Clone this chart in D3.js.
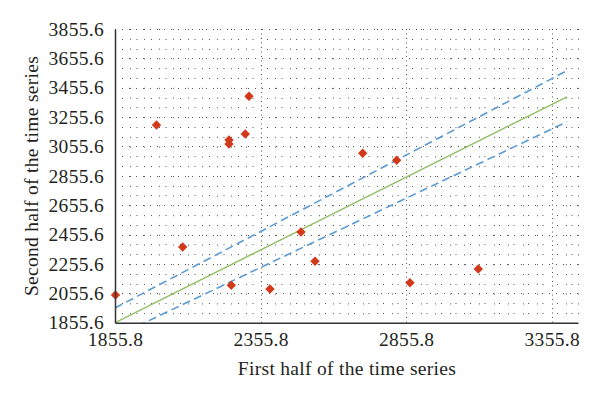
<!DOCTYPE html>
<html>
<head>
<meta charset="utf-8">
<script src="https://cdn.jsdelivr.net/npm/d3@7"></script>
<style>
  body { margin: 0; background: #fff; }
  text { font-family: "Liberation Serif", "DejaVu Serif", serif; fill: #231f20; }
</style>
</head>
<body>
<div id="wrapper"></div>
<script>
// data
const firstHalf  = [1857.5, 1998.3, 2088.3, 2247.3, 2247.3, 2303.2, 2316.0, 2255.2, 2388.0, 2494.5, 2542.6, 2706.4, 2823.1, 2868.8, 3103.4]
const secondHalf = [2044.2, 3202.0, 2371.0, 3099.8, 3072.6, 3140.6, 3397.4, 2110.3, 2085.1, 2473.3, 2273.7, 3009.2, 2961.6, 2128.0, 2221.3]

const fitLine   = [[1855.8, 1855.6], [3408, 3394]]
const upperBand = [[1855.8, 1956], [3408, 3572]]
const lowerBand = [[1855.8, 1760], [3408, 3224]]

const xTicks = [1855.8, 2355.8, 2855.8, 3355.8]
const yTicks = [1855.6, 2055.6, 2255.6, 2455.6, 2655.6, 2855.6, 3055.6, 3255.6, 3455.6, 3655.6, 3855.6]
const xDomain = [1855.8, 3445.8]
const yDomain = [1855.6, 3855.6]

const points = firstHalf.map((x, i) => ({x: x, y: secondHalf[i]}))

// dims
let dims = {
    width: 600,
    height: 397,
    margin: {top: 29, right: 22, bottom: 74.3, left: 115}
}
dims.boundedWidth = dims.width - dims.margin.left - dims.margin.right
dims.boundedHeight = dims.height - dims.margin.top - dims.margin.bottom

const wrapper = d3.select("#wrapper")
    .append("svg")
    .attr("width", dims.width)
    .attr("height", dims.height)

const bounds = wrapper.append("g")
    .attr("transform", `translate(${dims.margin.left},${dims.margin.top})`)

bounds.append("defs").append("clipPath")
    .attr("id", "plotclip")
    .append("rect")
    .attr("width", dims.boundedWidth)
    .attr("height", dims.boundedHeight)

// scales
const xScale = d3.scaleLinear().domain(xDomain).range([0, dims.boundedWidth])
const yScale = d3.scaleLinear().domain(yDomain).range([dims.boundedHeight, 0])

// gridlines (dotted)
const grid = bounds.append("g").attr("stroke", "#555").attr("stroke-width", 1)

const yMinor = d3.range(yDomain[0], yDomain[1], 200 / 3).filter((d, i) => i % 3 != 0)
grid.selectAll(".ymin").data(yMinor).join("line")
    .attr("x1", 0).attr("x2", dims.boundedWidth)
    .attr("y1", d => Math.round(yScale(d)) + 0.5).attr("y2", d => Math.round(yScale(d)) + 0.5)
    .attr("stroke-dasharray", "1,13.5")
    .attr("stroke-dashoffset", -7)

grid.selectAll(".ymaj").data(yTicks.slice(1)).join("line")
    .attr("x1", 0).attr("x2", dims.boundedWidth)
    .attr("y1", d => Math.round(yScale(d)) + 0.5).attr("y2", d => Math.round(yScale(d)) + 0.5)
    .attr("stroke-dasharray", "1,6")

const xMinor = d3.range(xDomain[0] + 50, xDomain[1], 50)
    .filter(d => !xTicks.some(t => Math.abs(t - d) < 1))
    .concat([xDomain[1]])
grid.selectAll(".xmin").data(xMinor).join("line")
    .attr("y1", 0).attr("y2", dims.boundedHeight)
    .attr("x1", d => Math.round(xScale(d)) + 0.5).attr("x2", d => Math.round(xScale(d)) + 0.5)
    .attr("stroke-dasharray", "1,8.8")

grid.selectAll(".xmaj").data(xTicks.slice(1)).join("line")
    .attr("y1", 0).attr("y2", dims.boundedHeight)
    .attr("x1", d => Math.round(xScale(d)) + 0.5).attr("x2", d => Math.round(xScale(d)) + 0.5)
    .attr("stroke-dasharray", "1,3.5")

// lines
const lineGen = d3.line().x(d => xScale(d[0])).y(d => yScale(d[1]))
const lines = bounds.append("g").attr("clip-path", "url(#plotclip)").attr("fill", "none")

lines.append("path").attr("d", lineGen(fitLine))
    .attr("stroke", "#8dbd5f").attr("stroke-width", 1.4)
lines.selectAll(".band").data([upperBand, lowerBand]).join("path")
    .attr("d", lineGen)
    .attr("stroke", "#5b9bd5").attr("stroke-width", 1.6)
    .attr("stroke-dasharray", "8,4.5")

// dots
bounds.selectAll(".dot").data(points).join("path")
    .attr("d", d3.symbol(d3.symbolSquare, 44))
    .attr("transform", d => `translate(${xScale(d.x)},${yScale(d.y)}) rotate(45)`)
    .attr("fill", "#d2381a")

// axes
const yAxis = bounds.append("g")
    .call(d3.axisLeft(yScale).tickValues(yTicks).tickSize(0).tickPadding(11).tickFormat(d3.format(".1f")))
yAxis.select(".domain").attr("stroke", "#333").attr("stroke-width", 1.5)
yAxis.selectAll("text").style("font-size", "19.5px").style("letter-spacing", "0.3px").attr("fill", "#231f20")

const xAxis = bounds.append("g")
    .attr("transform", `translate(0,${dims.boundedHeight})`)
    .call(d3.axisBottom(xScale).tickValues(xTicks).tickSize(0).tickPadding(9).tickFormat(d3.format(".1f")))
xAxis.select(".domain").attr("stroke", "#333").attr("stroke-width", 1.5)
xAxis.selectAll("text").style("font-size", "19.5px").style("letter-spacing", "0.3px").attr("fill", "#231f20")

// axis titles
wrapper.append("text")
    .attr("x", 347)
    .attr("y", 375)
    .style("text-anchor", "middle")
    .style("font-size", "19.5px")
    .style("letter-spacing", "0.3px")
    .text("First half of the time series")

wrapper.append("text")
    .attr("transform", `translate(38,176) rotate(-90)`)
    .style("text-anchor", "middle")
    .style("font-size", "19.5px")
    .style("letter-spacing", "0.3px")
    .text("Second half of the time series")
</script>
</body>
</html>
